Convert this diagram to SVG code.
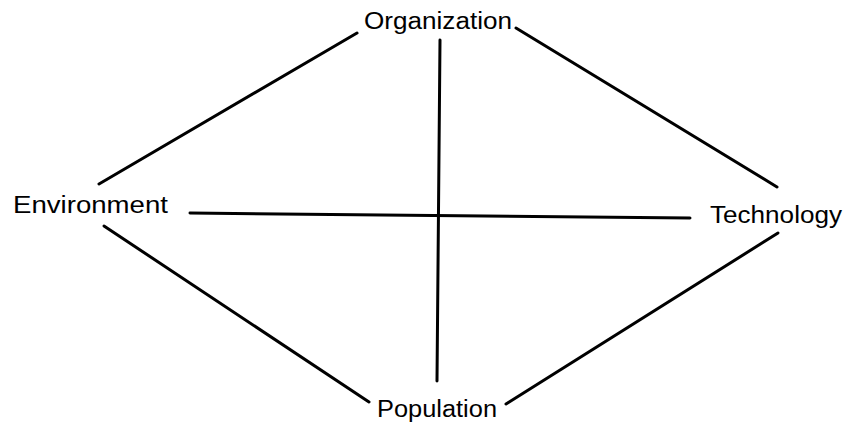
<svg xmlns="http://www.w3.org/2000/svg" width="845" height="425" viewBox="0 0 845 425">
<style>
.lbl{font-family:"Liberation Sans","DejaVu Sans",sans-serif;font-size:23px;fill:#000}
.c line{stroke:#000;stroke-width:3;stroke-linecap:round}
</style>
<rect width="845" height="425" fill="#fff"/>
<g id="connectors" class="c">
<line x1="99" y1="184" x2="357" y2="33"/>
<line x1="516" y1="28" x2="777" y2="187"/>
<line x1="440" y1="40" x2="437" y2="381"/>
<line x1="190" y1="213" x2="690" y2="218"/>
<line x1="104" y1="226" x2="369" y2="402"/>
<line x1="506" y1="404" x2="778" y2="233"/>
</g>
<g id="organization"><text class="lbl" x="364" y="29" textLength="148" lengthAdjust="spacingAndGlyphs">Organization</text></g>
<g id="environment"><text class="lbl" x="13" y="213" textLength="155" lengthAdjust="spacingAndGlyphs">Environment</text></g>
<g id="technology"><text class="lbl" x="710" y="223" textLength="132" lengthAdjust="spacingAndGlyphs">Technology</text></g>
<g id="population"><text class="lbl" x="377" y="417" textLength="120" lengthAdjust="spacingAndGlyphs">Population</text></g>
</svg>
